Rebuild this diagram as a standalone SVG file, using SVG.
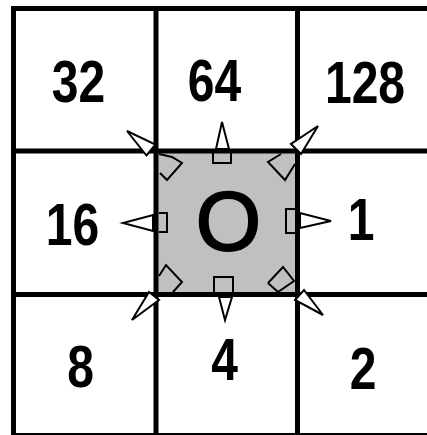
<svg xmlns="http://www.w3.org/2000/svg" width="427" height="435" viewBox="0 0 427 435">
<style>
.grid{stroke:#000;stroke-width:5;fill:none}
.num{font-family:"Liberation Sans",Arial,sans-serif;font-weight:bold;font-size:60px;text-anchor:middle;fill:#000}
.big{font-family:"Liberation Sans",Arial,sans-serif;font-size:84px;text-anchor:middle;fill:#000;stroke:#000;stroke-width:2}
.base{fill:none;stroke:#000;stroke-width:2}
.head{fill:#fff;stroke:#000;stroke-width:2;stroke-linejoin:miter}
</style>
<rect width="427" height="435" fill="#fff"/>
<g id="cell-center">
<rect x="156" y="151" width="141.5" height="143.5" fill="#c0c0c0"/>
<text class="big" x="228.5" y="250">O</text>
</g>
<g id="cell-32"><text class="num" transform="translate(78.5,102) scale(0.8,1)">32</text></g>
<g id="cell-64"><text class="num" transform="translate(214.5,101) scale(0.8,1)">64</text></g>
<g id="cell-128"><text class="num" transform="translate(365,103) scale(0.8,1)">128</text></g>
<g id="cell-16"><text class="num" transform="translate(72.5,245) scale(0.8,1)">16</text></g>
<g id="cell-1"><text class="num" transform="translate(361,240) scale(0.8,1)">1</text></g>
<g id="cell-8"><text class="num" transform="translate(80.5,387) scale(0.8,1)">8</text></g>
<g id="cell-4"><text class="num" transform="translate(224.5,380) scale(0.8,1)">4</text></g>
<g id="cell-2"><text class="num" transform="translate(363,389) scale(0.8,1)">2</text></g>
<g id="grid">
<path class="grid" d="M13.5 6V437M156 6V437M297.5 6V437M440 6V437M11 8.5H427M11 151H427M11 294.5H427M11 435.5H427"/>
</g>
<g id="connectors">
<!-- N -->
<polyline class="base" points="213,152 213,163 231,163 231,152"/>
<polygon class="head" points="216,149 229,149 222,122"/>
<!-- S -->
<polyline class="base" points="214,292 214,277 233,277 233,292"/>
<polygon class="head" points="219,297 232,297 225,320"/>
<!-- W -->
<polyline class="base" points="159,213 167,213 167,232 159,232"/>
<polygon class="head" points="153,215 153,231 123,223"/>
<!-- E -->
<polyline class="base" points="295,209 286,209 286,233 295,233"/>
<polygon class="head" points="300,213 300,228 331,221"/>
<!-- NW -->
<polyline class="base" points="159,154 172,157 182,163 167,180 160,173"/>
<polygon class="head" points="155.5,144.5 146.5,155.5 127,131"/>
<!-- NE -->
<polyline class="base" points="281,154 268,162 285,180 295,164"/>
<polygon class="head" points="291,144 301,154 318,126"/>
<!-- SW -->
<polyline class="base" points="159,276 166,265 182,282 173,292"/>
<polygon class="head" points="149,292 159,300 132,320"/>
<!-- SE -->
<polyline class="base" points="268,283 283,267 294,281 278,292 268,283"/>
<polygon class="head" points="295,300 304,290 323,315"/>
</g>
</svg>
